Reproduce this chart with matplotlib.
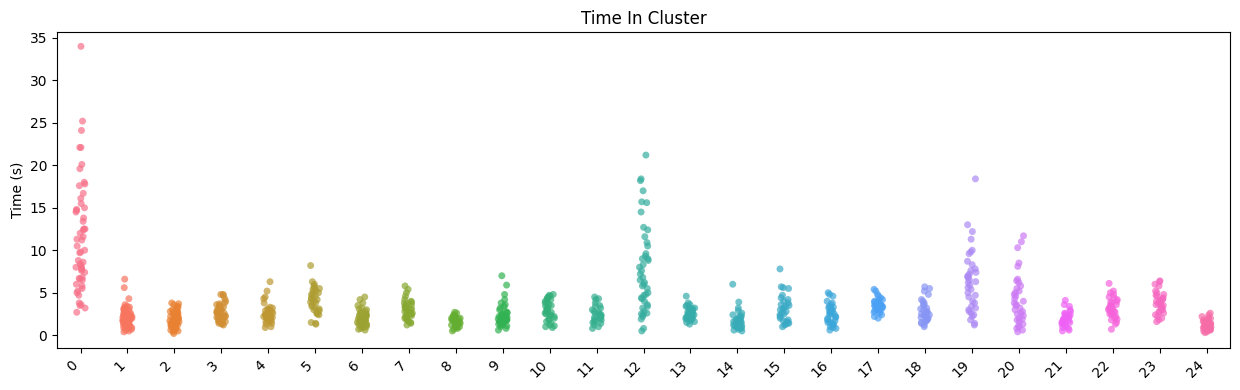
import numpy as np
import pandas as pd
import matplotlib
matplotlib.use("Agg")
import matplotlib.pyplot as plt
import seaborn as sns

# time spent in each cluster (s)
c0 = [34.0, 25.2, 24.1, 22.1, 22.1, 20.1, 19.6, 18.0, 17.8, 17.6, 16.7, 16.1, 15.5, 15.0, 14.8,
      14.7, 14.5, 13.8, 13.4, 12.5, 12.5, 12.4, 12.0, 11.6, 11.3, 11.2, 10.5, 10.0, 9.8, 9.7,
      8.8, 8.6, 8.4, 8.2, 8.0, 7.9, 7.8, 7.6, 7.4, 6.8, 6.7, 6.6, 6.5, 6.0, 5.8, 5.5, 5.2, 5.0,
      4.7, 3.8, 3.6, 3.5, 3.2, 2.7]
c1 = [6.6, 5.6, 4.3, 3.6, 3.4, 3.3, 3.2, 3.1, 3.0, 2.9, 2.8, 2.7, 2.6, 2.5, 2.4, 2.3, 2.2, 2.1,
      2.0, 2.0, 1.9, 1.8, 1.7, 1.7, 1.6, 1.5, 1.5, 1.4, 1.3, 1.2, 1.1, 1.0, 0.9, 0.9, 0.8, 0.7,
      0.6, 0.5, 0.4, 3.3, 2.9, 2.6, 2.3, 2.1, 1.9, 1.7, 1.5, 1.3, 1.1, 0.9, 1.8, 2.2, 1.6, 1.2]
c2 = [3.8, 3.7, 3.6, 3.4, 3.2, 3.0, 2.8, 2.7, 2.6, 2.5, 2.4, 2.3, 2.2, 2.1, 2.0, 1.9, 1.8, 1.8,
      1.7, 1.6, 1.5, 1.5, 1.4, 1.3, 1.2, 1.2, 1.1, 1.0, 0.9, 0.8, 0.7, 0.6, 0.5, 0.4, 0.2,
      3.3, 2.9, 2.5, 2.2, 2.0, 1.8, 1.6, 1.4, 1.2, 1.0, 0.8, 0.6, 1.9, 1.5, 1.1, 2.4, 2.8]
c3 = [4.8, 4.8, 4.7, 4.3, 4.0, 3.8, 3.6, 3.4, 3.3, 3.1, 3.0, 2.9, 2.8, 2.7, 2.6, 2.5, 2.4, 2.3,
      2.2, 2.1, 2.0, 1.9, 1.8, 1.7, 1.6, 1.5, 1.4, 1.3, 1.2, 3.5, 3.2, 2.8, 2.5, 2.2, 2.0,
      1.8, 1.6, 1.4, 2.6, 2.9, 3.7]
c4 = [6.3, 5.2, 4.5, 4.3, 3.8, 3.3, 3.1, 3.0, 2.8, 2.6, 2.5, 2.4, 2.3, 2.2, 2.1, 2.0, 1.9, 1.8,
      1.7, 1.6, 1.4, 1.3, 1.0, 0.9, 3.2, 2.7, 2.4, 2.1, 1.9, 1.6, 2.9, 2.2]
c5 = [8.2, 6.3, 6.0, 5.8, 5.6, 5.4, 5.2, 5.0, 4.8, 4.6, 4.4, 4.2, 4.0, 3.8, 3.6, 3.4, 3.2, 3.0,
      2.9, 2.7, 2.5, 2.4, 1.5, 1.4, 1.3, 5.5, 5.1, 4.7, 4.3, 3.9, 3.1, 2.6]
c6 = [4.5, 4.2, 3.8, 3.5, 3.2, 3.0, 2.8, 2.7, 2.5, 2.4, 2.3, 2.2, 2.1, 2.0, 1.9, 1.8, 1.7, 1.6,
      1.5, 1.4, 1.3, 1.2, 1.1, 1.0, 0.9, 0.8, 0.7, 0.6, 3.1, 2.6, 2.2, 1.9, 1.6, 1.3, 1.0,
      2.4, 2.0, 1.7]
c7 = [5.8, 5.4, 5.0, 4.6, 4.2, 4.0, 3.8, 3.6, 3.5, 3.4, 3.2, 3.0, 2.9, 2.8, 2.7, 2.6, 2.5, 2.4,
      2.2, 2.0, 1.9, 1.8, 1.6, 1.5, 1.4, 1.2, 3.7, 3.3, 3.1, 2.8, 2.5, 2.3, 3.9, 2.1]
c8 = [2.7, 2.6, 2.4, 2.3, 2.2, 2.1, 2.0, 1.9, 1.8, 1.7, 1.6, 1.5, 1.4, 1.3, 1.2, 1.1, 1.0, 0.9,
      0.8, 0.7, 0.5, 2.3, 2.0, 1.8, 1.6, 1.4, 1.2, 1.0, 1.7, 1.3]
c9 = [7.0, 5.9, 4.8, 4.2, 3.8, 3.6, 3.4, 3.2, 3.0, 2.8, 2.6, 2.5, 2.4, 2.3, 2.2, 2.1, 2.0, 1.9,
      1.8, 1.7, 1.6, 1.5, 1.4, 1.3, 1.2, 1.0, 0.8, 0.6, 2.7, 2.4, 2.1, 1.9, 1.6, 1.3, 1.1,
      2.2, 1.8]
c10 = [4.8, 4.7, 4.5, 4.3, 4.2, 4.0, 3.8, 3.6, 3.4, 3.2, 3.0, 2.9, 2.8, 2.6, 2.5, 2.4, 2.2, 2.0,
       1.8, 1.6, 1.4, 1.2, 1.1, 1.0, 0.9, 4.4, 3.9, 3.5, 3.1, 2.7, 2.3, 1.9, 4.6]
c11 = [4.5, 4.3, 4.2, 3.8, 3.5, 3.2, 3.0, 2.8, 2.6, 2.5, 2.4, 2.2, 2.0, 1.9, 1.8, 1.6, 1.5, 1.4,
       1.2, 1.0, 0.8, 2.7, 2.3, 2.1, 1.7, 3.4]
c12 = [21.2, 18.4, 18.2, 17.0, 15.7, 15.6, 14.5, 12.7, 12.4, 11.6, 10.9, 10.5, 9.6, 9.3, 9.0,
       8.8, 8.3, 8.0, 7.6, 7.2, 6.8, 6.5, 6.2, 5.8, 5.5, 5.0, 4.7, 4.4, 4.0, 3.6, 3.2, 2.8, 2.5,
       2.4, 2.2, 1.9, 0.8, 0.5, 9.0, 6.0, 4.8, 4.3, 3.4, 2.6]
c13 = [4.6, 3.8, 3.6, 3.5, 3.3, 3.1, 3.0, 2.9, 2.8, 2.7, 2.6, 2.5, 2.4, 2.3, 2.2, 2.1, 2.0, 1.9,
       1.8, 1.7, 1.6, 1.5, 1.3, 3.4, 3.0, 2.7, 2.5, 2.3, 2.1, 1.9, 2.6, 2.2, 3.2]
c14 = [6.0, 3.9, 3.2, 2.9, 2.6, 2.4, 2.2, 2.0, 1.9, 1.8, 1.7, 1.6, 1.5, 1.4, 1.3, 1.2, 1.1, 1.0,
       0.9, 0.8, 0.7, 0.6, 0.5, 2.1, 1.8, 1.5, 1.2, 0.9, 1.6, 1.1, 2.3]
c15 = [7.8, 5.7, 5.6, 5.5, 4.7, 4.4, 4.2, 4.0, 3.8, 3.6, 3.4, 3.2, 3.0, 2.8, 2.6, 2.4, 2.2, 2.0,
       1.8, 1.6, 1.5, 1.3, 1.2, 1.0, 3.5, 3.1, 2.5, 1.7, 1.4]
c16 = [5.0, 4.8, 4.6, 4.0, 3.8, 3.6, 3.4, 3.2, 3.0, 2.8, 2.6, 2.4, 2.2, 2.0, 1.8, 1.6, 1.4, 1.2,
       1.0, 0.8, 0.6, 3.3, 2.9, 2.5, 2.1, 1.7, 1.3, 0.9, 2.7, 1.5]
c17 = [5.4, 5.2, 4.8, 4.6, 4.4, 4.2, 4.0, 3.9, 3.8, 3.6, 3.5, 3.4, 3.3, 3.2, 3.0, 2.9, 2.8, 2.6,
       2.4, 2.2, 2.0, 4.1, 3.7, 3.4, 3.1, 2.7, 3.9, 3.5]
c18 = [5.7, 5.5, 5.2, 4.8, 4.2, 4.0, 3.8, 3.5, 3.2, 3.0, 2.8, 2.6, 2.4, 2.3, 2.2, 2.1, 2.0, 1.9,
       1.8, 1.6, 1.4, 1.2, 1.0, 3.6, 3.1, 2.7, 2.5, 2.2, 1.9, 1.7, 2.4, 1.5]
c19 = [18.4, 13.0, 12.2, 11.3, 10.0, 9.8, 9.6, 8.7, 8.3, 7.8, 7.6, 7.2, 7.0, 6.8, 6.5, 6.2, 5.9,
       5.6, 5.0, 4.7, 4.5, 4.0, 3.8, 3.4, 3.0, 2.8, 2.6, 2.2, 1.8, 1.4, 1.2, 7.4, 6.9, 6.3, 5.4,
       3.2, 2.4]
c20 = [11.7, 11.0, 10.3, 8.5, 8.1, 6.6, 6.4, 6.2, 5.8, 5.5, 5.2, 5.0, 4.6, 4.3, 4.0, 3.8, 3.5,
       3.2, 3.0, 2.8, 2.6, 2.3, 2.0, 1.8, 1.6, 1.3, 1.0, 0.8, 0.6, 0.4, 4.8, 3.6, 2.5, 1.9, 1.1]
c21 = [4.1, 3.6, 3.4, 3.0, 2.8, 2.6, 2.4, 2.2, 2.0, 1.9, 1.8, 1.6, 1.5, 1.4, 1.2, 1.0, 0.8, 0.6,
       0.5, 2.5, 2.1, 1.7, 1.3, 0.9, 1.9, 1.5, 2.3]
c22 = [6.1, 5.2, 5.0, 4.8, 4.5, 4.2, 4.0, 3.8, 3.5, 3.3, 3.1, 3.0, 2.8, 2.6, 2.4, 2.2, 2.0, 1.9,
       1.8, 1.5, 1.3, 0.7, 4.4, 3.9, 3.6, 3.2, 2.9, 2.5, 3.4, 2.7]
c23 = [6.4, 6.3, 6.0, 5.8, 5.2, 5.0, 4.8, 4.6, 4.4, 4.2, 4.0, 3.8, 3.6, 3.4, 3.2, 3.0, 2.8, 2.6,
       2.4, 2.2, 2.0, 1.8, 1.6, 4.7, 4.3, 3.9, 3.5, 3.1, 2.7, 3.7, 4.1]
c24 = [2.6, 2.4, 2.2, 2.1, 2.0, 1.9, 1.8, 1.7, 1.6, 1.5, 1.4, 1.3, 1.2, 1.1, 1.0, 1.0, 0.9, 0.8,
       0.8, 0.7, 0.6, 0.5, 0.4, 0.3, 1.5, 1.3, 1.1, 0.9, 0.7, 0.6, 1.2, 1.0, 0.8, 1.4]

clusters = [c0, c1, c2, c3, c4, c5, c6, c7, c8, c9, c10, c11, c12,
            c13, c14, c15, c16, c17, c18, c19, c20, c21, c22, c23, c24]
labels = [str(i) for i in range(len(clusters))]

rows = []
for lab, vals in zip(labels, clusters):
    for v in vals:
        rows.append({"cluster": lab, "time": v})
df = pd.DataFrame(rows)

np.random.seed(0)  # jitter only
fig, ax = plt.subplots(figsize=(12.4, 3.9), dpi=100)
sns.stripplot(data=df, x="cluster", y="time", hue="cluster", order=labels, hue_order=labels,
              palette=sns.color_palette("husl", len(labels)), legend=False, alpha=0.7, ax=ax)
ax.set_title("Time In Cluster")
ax.set_xlabel("")
ax.set_ylabel("Time (s)")
plt.setp(ax.get_xticklabels(), rotation=45, ha="right")
fig.subplots_adjust(left=0.046, right=0.992, top=0.918, bottom=0.108)
fig.savefig("out.png")
